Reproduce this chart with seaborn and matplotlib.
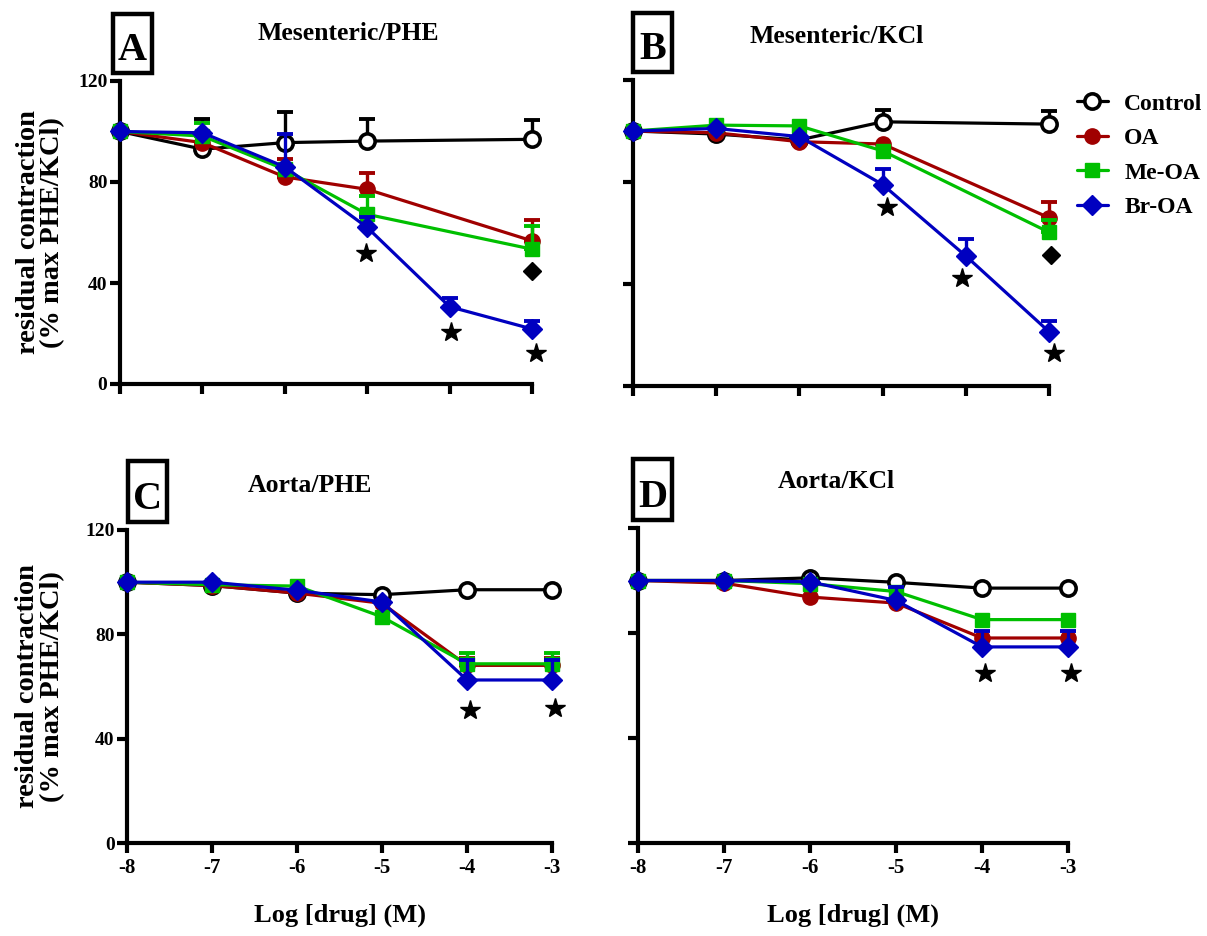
import matplotlib
matplotlib.use("Agg")
import matplotlib.pyplot as plt
import seaborn as sns
import pandas as pd
from matplotlib.lines import Line2D
from matplotlib.patches import Rectangle

# ---------------- data ----------------
SERIES = ["Control", "OA", "Me-OA", "Br-OA"]
X_TICKS = [-8, -7, -6, -5, -4, -3]
Y_TICKS = [0, 40, 80, 120]
X_TOP = [-8, -7, -6, -5, -3]          # Control / OA / Me-OA in top row
X_TOP_BR = [-8, -7, -6, -5, -4, -3]   # Br-OA in top row
X_BOTTOM = [-8, -7, -6, -5, -4, -3]

# Panel A: Mesenteric/PHE
A_CTRL = [100, 93, 95.6, 96.2, 96.9]
A_CTRL_ERR = [0, 12, 12, 8.6, 7.6]
A_OA = [100, 95.6, 82, 77.1, 56.7]
A_OA_ERR = [0, 4, 7, 6.4, 8.2]
A_ME = [100, 98.2, 85, 67.2, 53.4]
A_ME_ERR = [0, 5, 0, 7.3, 9.2]
A_BR = [100, 99.5, 86, 62, 30.6, 21.8]
A_BR_ERR = [0, 0, 13, 4.3, 3.4, 3.2]
A_STAR_X = [-5.02, -3.98, -2.95]
A_STAR_Y = [52, 20.4, 12.1]
A_DIAM_X = [-3.0]
A_DIAM_Y = [44.8]

# Panel B: Mesenteric/KCl
B_CTRL = [100, 98.8, 96.5, 103.6, 102.7]
B_CTRL_ERR = [0, 0, 0, 4.5, 5]
B_OA = [100, 99.3, 95.8, 94.9, 66]
B_OA_ERR = [0, 0, 0, 0, 6.3]
B_ME = [100, 102.3, 102, 92.2, 60.3]
B_ME_ERR = [0, 0, 0, 0, 4.7]
B_BR = [100, 101, 97.8, 79, 51, 21.3]
B_BR_ERR = [0, 0, 0, 6, 6.5, 4.3]
B_STAR_X = [-4.95, -4.04, -2.94]
B_STAR_Y = [70.3, 42.3, 13]
B_DIAM_X = [-2.97]
B_DIAM_Y = [51.4]

# Panel C: Aorta/PHE
C_CTRL = [100, 98.7, 95.8, 95.2, 97.1, 97.1]
C_CTRL_ERR = [0, 0, 0, 0, 0, 0]
C_OA = [100, 98.7, 95.8, 91.9, 68.1, 68.1]
C_OA_ERR = [0, 0, 0, 0, 3, 3]
C_ME = [100, 99, 98.5, 86.7, 68.7, 68.7]
C_ME_ERR = [0, 0, 0, 0, 4.3, 4.3]
C_BR = [100, 100, 96.9, 92.4, 62.5, 62.5]
C_BR_ERR = [0, 0, 0, 0, 7.8, 7.8]
C_STAR_X = [-3.96, -2.97]
C_STAR_Y = [51, 51.7]

# Panel D: Aorta/KCl
D_CTRL = [100, 100, 101, 99.3, 97.1, 97.1]
D_CTRL_ERR = [0, 0, 0, 0, 0, 0]
D_OA = [100, 99, 93.7, 91.4, 78.1, 78.1]
D_OA_ERR = [0, 0, 0, 0, 0, 0]
D_ME = [100, 100, 98.8, 95.8, 85.1, 85.1]
D_ME_ERR = [0, 0, 0, 0, 0, 0]
D_BR = [100, 100, 99.5, 92.4, 74.7, 74.7]
D_BR_ERR = [0, 0, 0, 5, 5.9, 5.9]
D_STAR_X = [-3.97, -2.96]
D_STAR_Y = [64.8, 64.8]

TITLES = ["Mesenteric/PHE", "Mesenteric/KCl", "Aorta/PHE", "Aorta/KCl"]
LETTERS = ["A", "B", "C", "D"]
YLABEL = "residual contraction\n(% max PHE/KCl)"
XLABEL = "Log [drug] (M)"

# ---------------- style ----------------
sns.set_style("ticks")
plt.rcParams["font.family"] = ["Liberation Serif", "DejaVu Serif"]
plt.rcParams["font.weight"] = "bold"
for key in ["text.color", "axes.labelcolor", "xtick.color", "ytick.color",
            "axes.edgecolor"]:
    plt.rcParams[key] = "black"

W, H = 1207, 936
fig = plt.figure(figsize=(W / 100, H / 100), dpi=100)


def px(x, y):
    return (x / W, 1 - y / H)


def rect(l, t, r, b):
    return [l / W, 1 - b / H, (r - l) / W, (b - t) / H]


STYLE = {
    "Control": dict(color="black", marker="o", markerfacecolor="white",
                    markeredgecolor="black", markersize=11, markeredgewidth=2.6),
    "OA": dict(color="#A00000", marker="o", markerfacecolor="#A00000",
               markeredgecolor="#A00000", markersize=11, markeredgewidth=1),
    "Me-OA": dict(color="#00BF00", marker="s", markerfacecolor="#00BF00",
                  markeredgecolor="#00BF00", markersize=10.5, markeredgewidth=1),
    "Br-OA": dict(color="#0000C0", marker="D", markerfacecolor="#0000C0",
                  markeredgecolor="#0000C0", markersize=10, markeredgewidth=1),
}

panels = [
    dict(box=rect(120, 81, 532, 384),
         xs=[X_TOP, X_TOP, X_TOP, X_TOP_BR],
         ys=[A_CTRL, A_OA, A_ME, A_BR],
         errs=[A_CTRL_ERR, A_OA_ERR, A_ME_ERR, A_BR_ERR],
         stars=(A_STAR_X, A_STAR_Y), diam=(A_DIAM_X, A_DIAM_Y),
         ylab=True, xlab=False, title_xy=(348, 40), letter_box=(113, 14, 152, 73)),
    dict(box=rect(633, 80, 1049, 386),
         xs=[X_TOP, X_TOP, X_TOP, X_TOP_BR],
         ys=[B_CTRL, B_OA, B_ME, B_BR],
         errs=[B_CTRL_ERR, B_OA_ERR, B_ME_ERR, B_BR_ERR],
         stars=(B_STAR_X, B_STAR_Y), diam=(B_DIAM_X, B_DIAM_Y),
         ylab=False, xlab=False, title_xy=(837, 43), letter_box=(633, 13, 672, 72)),
    dict(box=rect(127, 530, 552, 843),
         xs=[X_BOTTOM] * 4,
         ys=[C_CTRL, C_OA, C_ME, C_BR],
         errs=[C_CTRL_ERR, C_OA_ERR, C_ME_ERR, C_BR_ERR],
         stars=(C_STAR_X, C_STAR_Y), diam=None,
         ylab=True, xlab=True, title_xy=(310, 492), letter_box=(128, 461, 167, 522)),
    dict(box=rect(638, 528, 1068, 843),
         xs=[X_BOTTOM] * 4,
         ys=[D_CTRL, D_OA, D_ME, D_BR],
         errs=[D_CTRL_ERR, D_OA_ERR, D_ME_ERR, D_BR_ERR],
         stars=(D_STAR_X, D_STAR_Y), diam=None,
         ylab=False, xlab=True, title_xy=(836, 488), letter_box=(633, 459, 672, 520)),
]

for i, p in enumerate(panels):
    ax = fig.add_axes(p["box"])
    for k, name in enumerate(SERIES):
        st = STYLE[name]
        df = pd.DataFrame({"x": p["xs"][k], "y": p["ys"][k], "e": p["errs"][k]})
        de = df[df["e"] > 0]
        if len(de):
            ax.errorbar(de["x"], de["y"], yerr=[[0] * len(de), de["e"]], fmt="none",
                        ecolor=st["color"], elinewidth=2.4, capsize=5.5, capthick=2.8,
                        clip_on=False, zorder=2 + 2 * k)
        sns.lineplot(data=df, x="x", y="y", ax=ax, color=st["color"], linewidth=2.3,
                     marker=st["marker"], markersize=st["markersize"],
                     markerfacecolor=st["markerfacecolor"],
                     markeredgecolor=st["markeredgecolor"],
                     markeredgewidth=st["markeredgewidth"],
                     errorbar=None, legend=False, clip_on=False, zorder=3 + 2 * k)
    sx, sy = p["stars"]
    ax.plot(sx, sy, linestyle="none", marker="*", color="black", markersize=15,
            clip_on=False, zorder=20)
    if p["diam"] is not None:
        dx, dy = p["diam"]
        ax.plot(dx, dy, linestyle="none", marker="D", color="black", markersize=9,
                clip_on=False, zorder=20)

    ax.set_xlim(-8, -3)
    ax.set_ylim(0, 120)
    ax.set_xticks(X_TICKS)
    ax.set_yticks(Y_TICKS)
    sns.despine(ax=ax)
    for s in ["left", "bottom"]:
        ax.spines[s].set_linewidth(3)
        ax.spines[s].set_color("black")
    ax.tick_params(axis="both", direction="out", length=7, width=3, color="black",
                   labelsize=14, pad=2)
    ax.tick_params(axis="x", labelsize=15, pad=4)
    ax.set_xlabel("")
    ax.set_ylabel("")
    if p["ylab"]:
        ax.set_yticklabels([str(v) for v in Y_TICKS], fontweight="bold")
        ax.set_ylabel(YLABEL, fontsize=20.5, fontweight="bold", linespacing=1.0)
    else:
        ax.set_yticklabels([])
    if p["xlab"]:
        ax.set_xticklabels([str(v) for v in X_TICKS], fontweight="bold")
        ax.set_xlabel(XLABEL, fontsize=19, fontweight="bold", labelpad=18)
    else:
        ax.set_xticklabels([])
    ax.set_facecolor("none")

    tx, ty = p["title_xy"]
    fig.text(*px(tx, ty), TITLES[i], ha="center", va="baseline", fontsize=18.5,
             fontweight="bold")
    l, t, r, b = p["letter_box"]
    fig.add_artist(Rectangle(px(l, b), (r - l) / W, (b - t) / H, transform=fig.transFigure,
                             fill=False, edgecolor="black", linewidth=3.2))
    fig.text(*px((l + r) / 2, b - 13), LETTERS[i], ha="center", va="baseline",
             fontsize=29, fontweight="bold")

# y label positions
fig.axes[0].yaxis.set_label_coords(-0.132, 0.5)
fig.axes[2].yaxis.set_label_coords(-0.145, 0.5)

handles = []
for name in SERIES:
    st = STYLE[name]
    handles.append(Line2D([0], [0], color=st["color"], linewidth=2.3, marker=st["marker"],
                          markersize=st["markersize"], markerfacecolor=st["markerfacecolor"],
                          markeredgecolor=st["markeredgecolor"],
                          markeredgewidth=st["markeredgewidth"]))
fig.legend(handles, SERIES, loc="upper left", bbox_to_anchor=px(1077, 93), frameon=False,
           prop=dict(size=17, weight="bold"), handlelength=1.3, labelspacing=0.55,
           handletextpad=0.7, borderaxespad=0, borderpad=0)

fig.savefig("out.png", dpi=100)
